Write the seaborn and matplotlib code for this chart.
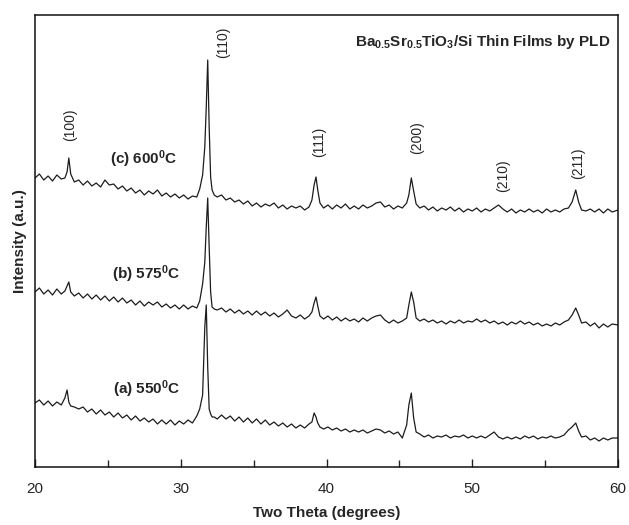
import matplotlib
matplotlib.use("Agg")
import matplotlib.pyplot as plt
from matplotlib import font_manager
from matplotlib.ticker import MultipleLocator
import numpy as np
import pandas as pd
import seaborn as sns

# 2-theta sampling positions (degrees)
two_theta = [
    20.0, 20.3, 20.6, 20.9, 21.2, 21.5, 21.8,
    22.05, 22.2, 22.32, 22.45,
    22.7, 23.0, 23.3, 23.6, 23.9, 24.2, 24.5, 24.8, 25.1, 25.4, 25.7, 26.0, 26.3, 26.6,
    26.9, 27.2, 27.5, 27.8, 28.1, 28.4, 28.7, 29.0, 29.3, 29.6, 29.9, 30.2, 30.5, 30.8,
    31.1, 31.3, 31.5, 31.65, 31.75, 31.85, 31.95, 32.05, 32.15, 32.3, 32.5,
    32.8, 33.1, 33.4, 33.7, 34.0, 34.3, 34.6, 34.9, 35.2, 35.5, 35.8, 36.1, 36.4, 36.7,
    37.0, 37.3, 37.6, 37.9, 38.2, 38.5, 38.8,
    39.0, 39.15, 39.28, 39.4, 39.55,
    39.8, 40.1, 40.4, 40.7, 41.0, 41.3, 41.6, 41.9, 42.2, 42.5, 42.8, 43.1, 43.4, 43.7,
    44.0, 44.3, 44.6, 44.9, 45.2, 45.5,
    45.65, 45.82, 45.98, 46.15,
    46.4, 46.7, 47.0, 47.3, 47.6, 47.9, 48.2, 48.5, 48.8, 49.1, 49.4, 49.7, 50.0, 50.3,
    50.6, 50.9, 51.2, 51.5, 51.8, 52.1, 52.4, 52.7, 53.0, 53.3, 53.6, 53.9, 54.2, 54.5,
    54.8, 55.1, 55.4, 55.7, 56.0, 56.3, 56.6,
    56.85, 57.1, 57.3, 57.5,
    57.8, 58.1, 58.4, 58.7, 59.0, 59.3, 59.6, 60.0,
]

# stacked intensities (a.u.), one trace per anneal temperature
int_600 = [
    289, 293, 287, 291, 286, 292, 288,
    289, 295, 309, 293,
    285, 287, 282, 286, 281, 284, 280, 287, 282, 283, 278, 281, 276, 279,
    274, 277, 272, 276, 273, 277, 271, 274, 270, 273, 269, 272, 268, 271,
    270, 278, 292, 320, 360, 407, 340, 290, 277, 272, 270,
    272, 267, 269, 265, 267, 263, 266, 261, 264, 260, 263, 261, 264, 259,
    262, 258, 261, 259, 261, 257, 260,
    267, 282, 290, 277, 264,
    259, 262, 258, 262, 259, 263, 258, 261, 258, 262, 259, 261, 264, 265,
    260, 262, 258, 261, 259, 264,
    272, 289, 276, 263,
    259, 261, 257, 260, 256, 259, 257, 260, 256, 259, 255, 258, 256, 259,
    255, 258, 256, 259, 262, 258, 255, 258, 254, 257, 255, 258, 255, 257,
    254, 258, 255, 257, 255, 258, 259,
    265, 277, 265, 257,
    256, 258, 255, 258, 254, 258, 255, 257,
]
int_575 = [
    175, 179, 173, 177, 172, 178, 173,
    176, 181, 185, 175,
    171, 174, 169, 173, 168, 172, 167, 171, 166, 170, 165, 169, 164, 167,
    162, 166, 161, 165, 162, 165, 160, 163, 159, 162, 158, 162, 158, 161,
    159, 166, 183, 205, 240, 269, 220, 175, 160, 158, 157,
    159, 155, 158, 154, 157, 153, 156, 152, 156, 152, 155, 151, 154, 150,
    153, 157, 151, 149, 152, 148, 151,
    155, 164, 170, 161, 151,
    148, 151, 147, 150, 146, 149, 146, 148, 145, 149, 146, 149, 151, 152,
    147, 144, 147, 144, 146, 149,
    162, 175, 165, 149,
    146, 148, 145, 147, 144, 146, 143, 146, 144, 147, 144, 146, 145, 148,
    145, 147, 144, 146, 143, 145, 142, 145, 143, 146, 143, 145, 142, 144,
    141, 143, 141, 144, 142, 145, 147,
    152, 159, 152, 144,
    145, 141, 144, 139, 143, 140, 143, 142,
]
int_550 = [
    64, 67, 62, 66, 61, 65, 62,
    69, 77, 65, 61,
    60, 58, 60, 55, 58, 53, 57, 52, 55, 50, 54, 49, 52, 47,
    51, 46, 49, 45, 48, 43, 47, 43, 47, 42, 46, 43, 47, 44,
    51, 58, 72, 140, 162, 100, 58, 53, 50, 50, 48,
    52, 48, 51, 46, 50, 45, 49, 44, 48, 43, 47, 42, 45, 41,
    44, 40, 43, 39, 42, 39, 43,
    45, 54, 50, 44, 40,
    38, 40, 37, 39, 36, 38, 35, 37, 35, 37, 34, 36, 38, 37,
    34, 36, 33, 35, 29, 42,
    62, 74, 49, 35,
    33, 30, 32, 29, 31, 30, 32, 29, 31, 30, 32, 29, 31, 29,
    31, 29, 32, 35, 30, 28, 30, 28, 30, 28, 31, 29, 31, 28,
    30, 29, 31, 29, 30, 32, 37,
    40, 44, 36, 30,
    31, 27, 29, 26, 29, 27, 29, 29,
]

samples = ["(c) 600$^0$C", "(b) 575$^0$C", "(a) 550$^0$C"]
sample_label_pos = [(25.15, 308), (25.28, 193), (25.35, 78)]

peak_names = ["(100)", "(110)", "(111)", "(200)", "(210)", "(211)"]
peak_label_pos = [(22.4, 342), (32.9, 425), (39.49, 325), (46.2, 329), (52.1, 291), (57.25, 304)]

traces = [int_600, int_575, int_550]
frames = []
for name, vals in zip(samples, traces):
    assert len(vals) == len(two_theta), (name, len(vals))
    frames.append(pd.DataFrame({"two_theta": two_theta, "intensity": vals, "sample": name}))
df = pd.concat(frames, ignore_index=True)

sns.set_theme(style="white")
avail = {f.name for f in font_manager.fontManager.ttflist}
fam = [f for f in ["Liberation Sans Narrow", "Liberation Sans", "DejaVu Sans"] if f in avail]
plt.rcParams["font.family"] = fam
plt.rcParams["mathtext.default"] = "regular"

fig = plt.figure(figsize=(6.29, 5.25), dpi=100)
ax = fig.add_axes([35 / 629, 1 - 467 / 525, 583 / 629, 452 / 525])

sns.lineplot(data=df, x="two_theta", y="intensity", hue="sample",
             palette=["#1c1c1c"] * 3, estimator=None, sort=False,
             linewidth=0.9, legend=False, ax=ax)

ax.set_xlim(20, 60)
ax.set_ylim(0, 452)
ax.xaxis.set_major_locator(MultipleLocator(10))
ax.xaxis.set_minor_locator(MultipleLocator(5))
ax.tick_params(axis="x", which="both", direction="in", bottom=True, top=False,
               labelsize=11, pad=11)
ax.tick_params(axis="x", which="major", length=6, width=1.0)
ax.tick_params(axis="x", which="minor", length=5, width=1.0)
ax.set_yticks([])
for s in ax.spines.values():
    s.set_color("#111111")
    s.set_linewidth(1.1)

ax.set_xlabel("Two Theta (degrees)", fontsize=11, fontweight="bold", labelpad=7)
ax.set_ylabel("Intensity (a.u.)", fontsize=11, fontweight="bold", labelpad=6)

for txt, (x, y) in zip(samples, sample_label_pos):
    ax.text(x, y, txt, fontsize=11, fontweight="bold", ha="left", va="center")
for txt, (x, y) in zip(peak_names, peak_label_pos):
    ax.text(x, y, txt, fontsize=10, rotation=90, ha="center", va="center")

ax.text(59.5, 425, "Ba$_{0.5}$Sr$_{0.5}$TiO$_3$/Si Thin Films by PLD",
        fontsize=11, fontweight="bold", ha="right", va="center")

fig.savefig("out.png", dpi=100)
